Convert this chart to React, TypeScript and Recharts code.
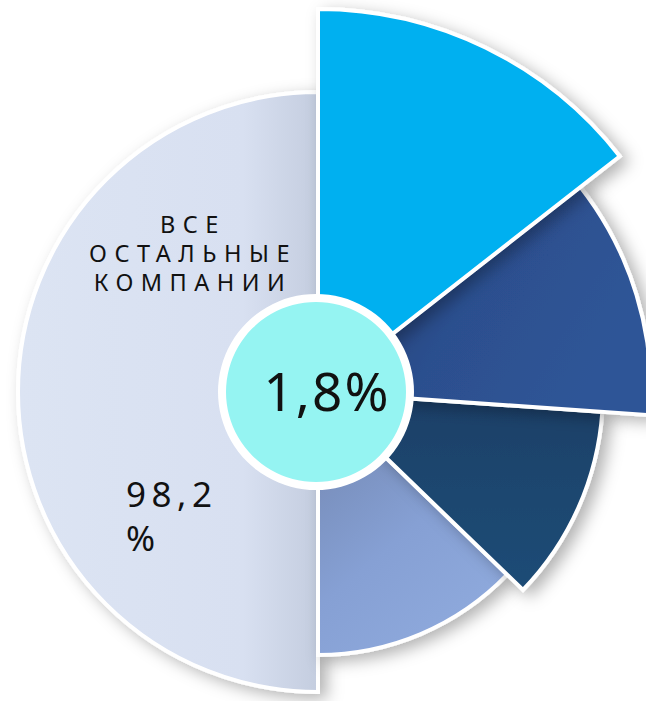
import { Cell, Pie, PieChart } from "recharts";

const companies = ["Компания 1", "Компания 2", "Компания 3", "Компания 4", "Все остальные компании"];
// angular share of each sector as drawn in the picture (degrees)
const sectorSizes = [52, 42, 40, 46, 180];
const sectorRadii = [383, 333, 285, 263, 300];
const sectorColors = ["#00B0F0", "url(#gDark)", "url(#gNavy)", "url(#gLight)", "url(#gGrey)"];
const drawOrder = [4, 3, 2, 1, 0];
const restLabel = ["ВСЕ", "ОСТАЛЬНЫЕ", "КОМПАНИИ"];
const restShare = ["98,2", "%"];
const centerShare = [{ name: "1,8%", value: 1 }];

const data = companies.map((name, i) => ({ name, value: sectorSizes[i] }));

const CX = 318;
const CY = 392;
const FONT = "'Noto Sans', 'Open Sans', sans-serif";

export default function App() {
  return (
    <div style={{ position: "absolute", left: 0, top: 0, width: 646, height: 701, background: "#fff" }}>
      <PieChart width={646} height={701} margin={{ top: 0, right: 0, bottom: 0, left: 0 }}>
        <defs>
          <filter id="shadow" x="-30%" y="-30%" width="160%" height="160%">
            <feDropShadow dx="7" dy="5" stdDeviation="8" floodColor="#000" floodOpacity="0.3" />
          </filter>
          <linearGradient id="gGrey" x1="0" y1="0" x2="1" y2="0">
            <stop offset="0" stopColor="#DCE4F3" />
            <stop offset="0.75" stopColor="#D8E0F1" />
            <stop offset="1" stopColor="#C4CDDF" />
          </linearGradient>
          <linearGradient id="gDark" x1="0" y1="0" x2="1" y2="0.4">
            <stop offset="0" stopColor="#213A6C" />
            <stop offset="0.55" stopColor="#2C4F8E" />
            <stop offset="1" stopColor="#2F5597" />
          </linearGradient>
          <linearGradient id="gNavy" x1="0" y1="0" x2="0" y2="1">
            <stop offset="0" stopColor="#1A4068" />
            <stop offset="1" stopColor="#1F4C76" />
          </linearGradient>
          <linearGradient id="gLight" x1="0" y1="0" x2="0.6" y2="1">
            <stop offset="0" stopColor="#7084AD" />
            <stop offset="0.6" stopColor="#86A0D4" />
            <stop offset="1" stopColor="#8EA9DC" />
          </linearGradient>
        </defs>
        {drawOrder.map((k) => (
          <Pie
            key={companies[k]}
            data={data}
            dataKey="value"
            nameKey="name"
            cx={CX}
            cy={CY}
            innerRadius={0}
            outerRadius={sectorRadii[k]}
            startAngle={90}
            endAngle={-270}
            stroke="none"
            isAnimationActive={false}
          >
            {data.map((d, i) => (
              <Cell
                key={d.name}
                fill={i === k ? sectorColors[k] : "none"}
                stroke={i === k ? "#FFFFFF" : "none"}
                strokeWidth={4}
                filter={i === k ? "url(#shadow)" : undefined}
              />
            ))}
          </Pie>
        ))}
        <Pie
          data={centerShare}
          dataKey="value"
          cx={CX - 2}
          cy={CY}
          innerRadius={0}
          outerRadius={98}
          fill="#FFFFFF"
          stroke="none"
          isAnimationActive={false}
        />
        <Pie
          data={centerShare}
          dataKey="value"
          cx={CX - 2}
          cy={CY}
          innerRadius={0}
          outerRadius={90}
          fill="#95F4F2"
          stroke="none"
          isAnimationActive={false}
        />
      </PieChart>
      {/* labels sit in an overlay so the sectors do not cover them */}
      <svg width={646} height={701} style={{ position: "absolute", left: 0, top: 0, pointerEvents: "none" }}>
        <text x={CX + 9} y={CY + 19} textAnchor="middle" fontFamily={FONT} fontSize={53} fill="#111" letterSpacing={2}>
          {centerShare[0].name}
        </text>
        {restLabel.map((t, i) => (
          <text
            key={t}
            x={193}
            y={233 + i * 29}
            textAnchor="middle"
            fontFamily={FONT}
            fontSize={23.5}
            letterSpacing={7.5}
            fill="#111"
          >
            {t}
          </text>
        ))}
        {restShare.map((t, i) => (
          <text key={t} x={126} y={507 + i * 44} fontFamily={FONT} fontSize={35} letterSpacing={5.5} fill="#111">
            {t}
          </text>
        ))}
      </svg>
    </div>
  );
}
